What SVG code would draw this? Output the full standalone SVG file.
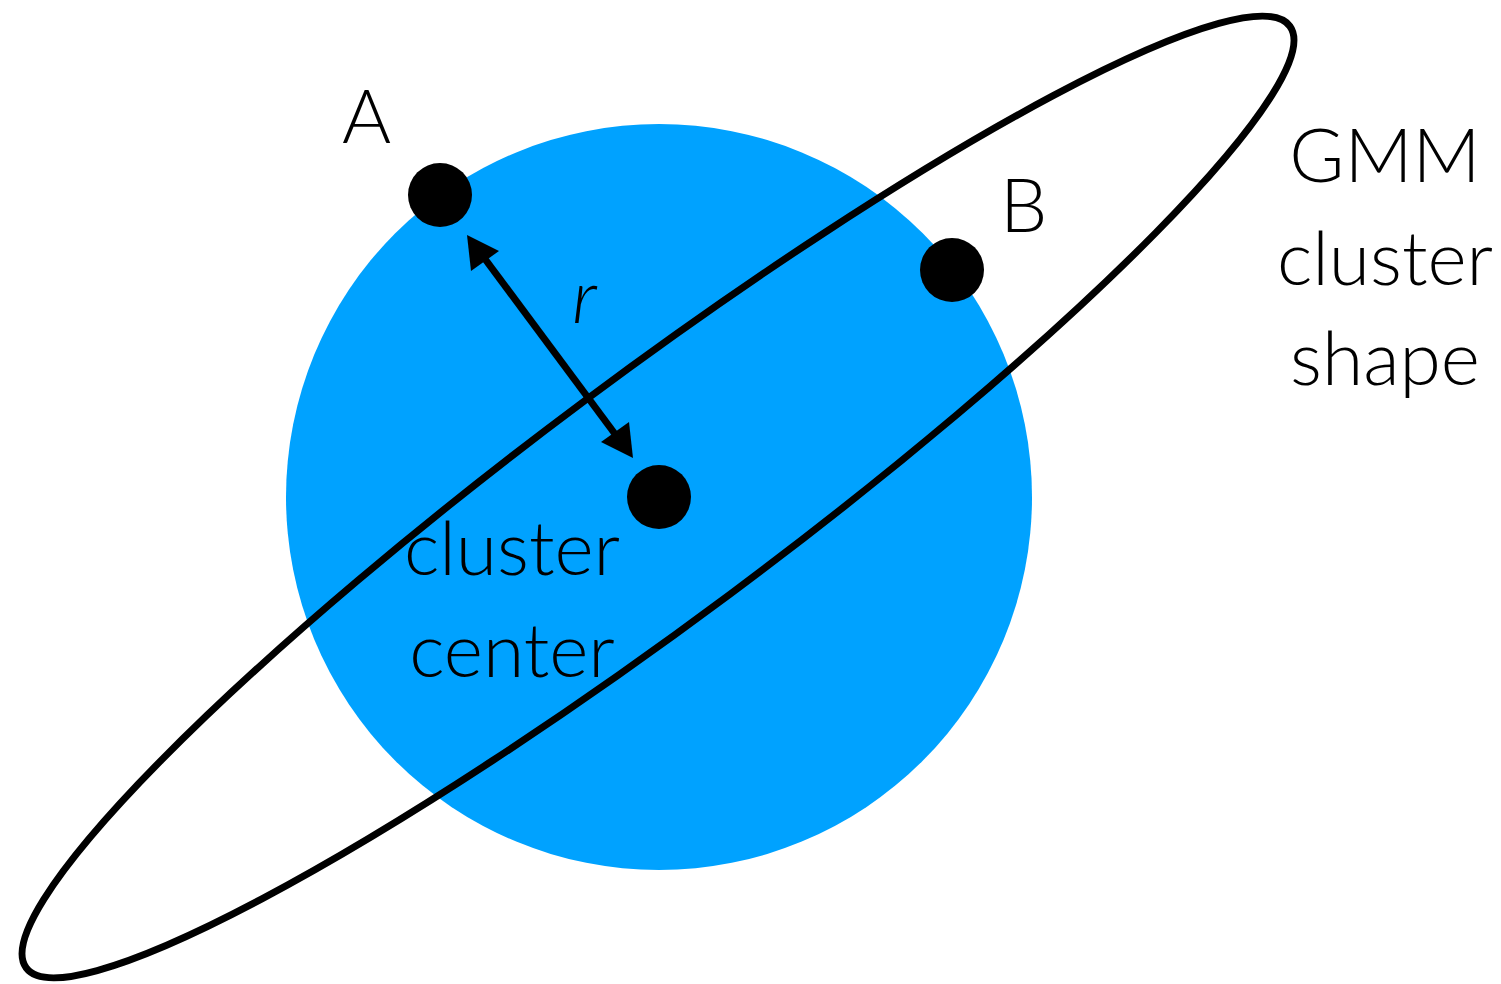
<svg xmlns="http://www.w3.org/2000/svg" width="1501" height="984" viewBox="0 0 1501 984">
<style>
.t{font-family:Lato,"Liberation Sans",sans-serif;font-size:75px;font-weight:300;fill:#000}
.dot{fill:#000}
</style>
<rect width="1501" height="984" fill="#fff"/>
<g id="cluster-circle"><circle cx="659" cy="497" r="373" fill="#00a2ff"/></g>
<g id="gmm-ellipse"><ellipse cx="658" cy="497" rx="788" ry="121" transform="rotate(-36.7 658 497)" fill="none" stroke="#000" stroke-width="7"/></g>
<g id="point-A"><circle class="dot" cx="440" cy="195" r="32"/><text class="t" x="342" y="143" font-size="68">A</text></g>
<g id="point-B"><circle class="dot" cx="952" cy="270" r="32"/><text class="t" x="1000" y="232" font-size="68">B</text></g>
<g id="center"><circle class="dot" cx="659" cy="497" r="32"/>
<text class="t" x="512" y="575" text-anchor="middle">cluster</text>
<text class="t" x="512" y="677" text-anchor="middle">center</text></g>
<g id="gmm-label"><text class="t" x="1385" y="182" text-anchor="middle">GMM</text>
<text class="t" x="1385" y="285" text-anchor="middle">cluster</text>
<text class="t" x="1385" y="385" text-anchor="middle">shape</text></g>
<g id="connectors">
<line x1="485" y1="259" x2="615" y2="434" stroke="#000" stroke-width="7"/>
<path d="M467,235 L499,251 L471,271 Z" fill="#000"/>
<path d="M633,458 L601,442 L629,422 Z" fill="#000"/>
<text class="t" x="572" y="323" font-size="72" font-style="italic">r</text>
</g>
</svg>
